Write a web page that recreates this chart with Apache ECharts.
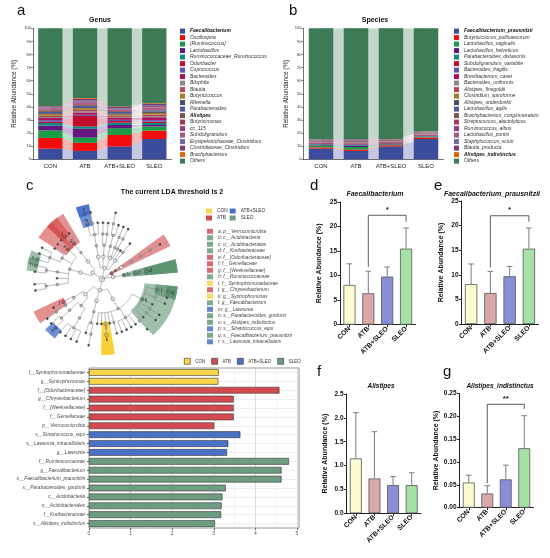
<!DOCTYPE html>
<html><head><meta charset="utf-8">
<script src="https://cdn.jsdelivr.net/npm/echarts@6/dist/echarts.min.js"></script>
<style>html,body{margin:0;padding:0;background:#fff;overflow:hidden}#c{width:550px;height:558px}</style>
</head><body><div id="c"></div>
<script>
// ---------------- DATA ----------------
const groups = ['CON', 'ATB', 'ATB+SLEO', 'SLEO'];

// Panel a: genus relative abundance (%)
const genusTaxa = ['Faecalibacterium','Oscillospira','[Ruminococcus]','Lactobacillus','Ruminococcaceae_Ruminococcus','Odoribacter','Coprococcus','Bacteroides','Bilophila','Blautia','Butyricicoccus','Rikenella','Parabacteroides','Alistipes','Butyricimonas','cc_115','Subdoligranulum','Erysipelotrichaceae_Clostridium','Clostridiaceae_Clostridium','Brachybacterium','Others'];
const genusCON     = [8.1, 8.2, 5.8, 3.6, 2.0, 1.0, 1.2, 1.6, 0.8, 0.9, 1.3, 0.7, 1.0, 1.15, 0.6, 0.7, 0.6, 0.5, 0.7, 0.3, 59.25];
const genusATB     = [6.4, 6.2, 4.0, 6.8, 1.7, 8.0, 1.0, 1.6, 1.0, 1.1, 1.2, 0.8, 1.2, 0.73, 0.9, 0.8, 0.7, 0.8, 1.2, 0.6, 53.27];
const genusATBSLEO = [9.8, 8.8, 5.1, 2.5, 1.8, 1.2, 1.0, 1.4, 0.8, 0.9, 1.0, 0.8, 1.0, 0.6, 0.6, 0.6, 0.7, 0.6, 0.8, 0.4, 59.6];
const genusSLEO    = [15.5, 6.4, 3.1, 1.2, 1.5, 1.0, 1.2, 2.2, 0.9, 1.1, 1.3, 0.9, 1.0, 0.6, 0.7, 0.8, 1.3, 0.7, 0.9, 0.5, 57.2];
const genusBold = ['Faecalibacterium', 'Alistipes'];

// Panel b: species relative abundance (%)
const speciesTaxa = ['Faecalibacterium_prausnitzii','Butyricicoccus_pullicaecorum','Lactobacillus_vaginalis','Lactobacillus_helveticus','Parabacteroides_distasonis','Subdoligranulum_variabile','Bacteroides_fragilis','Brevibacterium_casei','Bacteroides_uniformis','Alistipes_finegoldii','Clostridium_spiroforme','Alistipes_onderdonkii','Lactobacillus_agilis','Brachybacterium_conglomeratum','Streptococcus_alactolyticus','Ruminococcus_albus','Lactobacillus_pontis','Staphylococcus_sciuri','Blautia_producta','Alistipes_indistinctus','Others'];
const speciesCON     = [8.1, 1.0, 1.4, 0.6, 0.5, 0.6, 0.4, 0.3, 0.3, 0.3, 0.2, 0.3, 0.2, 0.2, 0.2, 0.2, 0.2, 0.1, 0.2, 0.055, 84.64];
const speciesATB     = [6.4, 1.0, 2.0, 1.0, 0.5, 0.4, 0.5, 0.4, 0.3, 0.3, 0.3, 0.3, 0.3, 0.3, 0.3, 0.2, 0.3, 0.2, 0.3, 0.032, 84.67];
const speciesATBSLEO = [9.8, 0.9, 0.6, 0.3, 0.5, 0.5, 0.4, 0.3, 0.3, 0.2, 0.2, 0.2, 0.2, 0.2, 0.2, 0.2, 0.1, 0.1, 0.2, 0.062, 84.54];
const speciesSLEO    = [15.5, 1.2, 0.4, 0.2, 0.6, 0.5, 0.4, 0.2, 0.3, 0.3, 0.2, 0.2, 0.1, 0.2, 0.2, 0.2, 0.1, 0.1, 0.3, 0.128, 78.67];
const speciesBold = ['Faecalibacterium_prausnitzii', 'Alistipes_indistinctus'];

// Panel c: cladogram taxonomy (name, children)
const cladeTree = ['Bacteria', [
 ['p__Proteobacteria', [
  ['c__Deltaproteobacteria', [['o__Desulfovibrionales', [['f__Desulfovibrionaceae', [
     ['g__Lawsonia', [['s__Lawsonia_intracellularis']]],
     ['g__Desulfovibrio', [['s__Desulfovibrio_C21_c20']]],
     ['g__Bilophila']]]]]]],
  ['c__Betaproteobacteria', [['o__Burkholderiales', [
     ['f__Alcaligenaceae', [['g__Sutterella']]],
     ['f__Oxalobacteraceae', [['g__Ralstonia']]]]]]],
  ['c__Gammaproteobacteria', [
     ['o__Enterobacteriales', [['f__Enterobacteriaceae', [['g__Escherichia', [['s__Escherichia_coli']]], ['g__Proteus']]]]],
     ['o__Pasteurellales', [['f__Pasteurellaceae', [['g__Actinobacillus']]]]],
     ['o__Pseudomonadales', [['f__Moraxellaceae', [['g__Acinetobacter']]]]]]],
  ['c__Alphaproteobacteria', [['o__RF32'], ['o__Rhizobiales', [['f__Bradyrhizobiaceae']]]]]]],
 ['p__Verrucomicrobia', [['c__Verrucomicrobiae', [['o__Verrucomicrobiales', [['f__Verrucomicrobiaceae', [['g__Akkermansia', [['s__Akkermansia_muciniphila']]]]]]]]]]],
 ['p__Acidobacteria', [['c__Acidobacteria', [['o__Acidobacteriales', [['f__Koribacteraceae']]]]]]],
 ['p__Firmicutes', [
  ['c__Clostridia', [['o__Clostridiales', [
     ['f__Ruminococcaceae', [
        ['g__Faecalibacterium', [['s__Faecalibacterium_prausnitzii']]],
        ['g__Ruminococcus', [['s__Ruminococcus_flavefaciens'], ['s__Ruminococcus_bromii']]],
        ['g__Oscillospira'],
        ['g__Subdoligranulum', [['s__Subdoligranulum_variabile']]],
        ['g__Butyricicoccus', [['s__Butyricicoccus_pullicaecorum']]],
        ['g__Anaerotruncus']]],
     ['f__Lachnospiraceae', [
        ['g__Blautia', [['s__Blautia_producta']]],
        ['g__Coprococcus'], ['g__Dorea'], ['g__Roseburia'], ['g__Lachnospira']]],
     ['f__Clostridiaceae', [['g__Clostridium']]],
     ['f__Peptostreptococcaceae'],
     ['f__Syntrophomonadaceae', [['g__Syntrophomonas']]],
     ['f__Mogibacteriaceae'],
     ['f__Christensenellaceae']]]]],
  ['c__Erysipelotrichi', [['o__Erysipelotrichales', [['f__Erysipelotrichaceae', [
     ['g__[Clostridium]', [['s__Clostridium_spiroforme']]], ['g__cc_115']]]]]]],
  ['c__Bacilli', [
     ['o__Lactobacillales', [
        ['f__Lactobacillaceae', [['g__Lactobacillus', [['s__Lactobacillus_vaginalis'], ['s__Lactobacillus_helveticus'], ['s__Lactobacillus_agilis'], ['s__Lactobacillus_pontis']]]]],
        ['f__Streptococcaceae', [['g__Streptococcus', [['s__Streptococcus_equi'], ['s__Streptococcus_alactolyticus']]]]]]],
     ['o__Bacillales', [
        ['f__Staphylococcaceae', [['g__Staphylococcus', [['s__Staphylococcus_sciuri']]]]],
        ['f__Gemellaceae', [['g__Gemella']]]]]]]]],
 ['p__Bacteroidetes', [
  ['c__Bacteroidia', [['o__Bacteroidales', [
     ['f__Bacteroidaceae', [['g__Bacteroides', [['s__Bacteroides_fragilis'], ['s__Bacteroides_uniformis']]]]],
     ['f__S24-7'],
     ['f__Porphyromonadaceae', [['g__Parabacteroides', [['s__Parabacteroides_distasonis'], ['s__Parabacteroides_gordonii']]]]],
     ['f__Rikenellaceae', [['g__Alistipes', [['s__Alistipes_indistinctus'], ['s__Alistipes_finegoldii'], ['s__Alistipes_onderdonkii']]], ['g__Rikenella']]],
     ['f__[Odoribacteraceae]', [['g__Odoribacter'], ['g__Butyricimonas']]]]]]],
  ['c__Flavobacteriia', [['o__Flavobacteriales', [['f__[Weeksellaceae]', [['g__Chryseobacterium'], ['g__Wautersiella']]]]]]]]]
]];

// Panel c: biomarkers
const markerLetter = ['a','b','c','d','e','f','g','h','i','j','k','l','m','n','o','p','q','r'];
const markerTaxon = ['p__Verrucomicrobia','c__Acidobacteria','o__Acidobacteriales','f__Koribacteraceae','f__[Odoribacteraceae]','f__Gemellaceae','f__[Weeksellaceae]','f__Ruminococcaceae','f__Syntrophomonadaceae','g__Chryseobacterium','g__Syntrophomonas','g__Faecalibacterium','g__Lawsonia','s__Parabacteroides_gordonii','s__Alistipes_indistinctus','s__Streptococcus_equi','s__Faecalibacterium_prausnitzii','s__Lawsonia_intracellularis'];
const markerGroup = ['ATB','SLEO','SLEO','SLEO','ATB','ATB','ATB','SLEO','CON','ATB','CON','SLEO','ATB+SLEO','SLEO','SLEO','ATB+SLEO','SLEO','ATB+SLEO'];

// Panel c: LDA scores
const ldaTaxa = ['f__Syntrophomonadaceae','g__Syntrophomonas','f__[Odoribacteraceae]','g__Chryseobacterium','f__[Weeksellaceae]','f__Gemellaceae','p__Verrucomicrobia','s__Streptococcus_equi','s__Lawsonia_intracellularis','g__Lawsonia','f__Ruminococcaceae','g__Faecalibacterium','s__Faecalibacterium_prausnitzii','s__Parabacteroides_gordonii','c__Acidobacteria','o__Acidobacteriales','f__Koribacteraceae','s__Alistipes_indistinctus'];
const ldaScores = [3.12, 3.11, 4.58, 3.48, 3.48, 3.48, 3.01, 3.64, 3.35, 3.32, 4.81, 4.63, 4.63, 3.29, 3.21, 3.19, 3.18, 3.03];
const ldaGroup = ['CON','CON','ATB','ATB','ATB','ATB','ATB','ATB+SLEO','ATB+SLEO','ATB+SLEO','SLEO','SLEO','SLEO','SLEO','SLEO','SLEO','SLEO','SLEO'];

// Panels d-g: mean and SD (%)
const dMean = [8.1, 6.4, 9.8, 15.5];   const dSd = [4.3, 4.5, 1.95, 4.2];
const eMean = [8.1, 6.3, 9.7, 15.3];   const eSd = [4.1, 4.4, 2.0, 4.2];
const fMean = [1.15, 0.73, 0.59, 0.59]; const fSd = [0.96, 0.98, 0.18, 0.26];
const gMean = [0.055, 0.031, 0.062, 0.130]; const gSd = [0.016, 0.017, 0.031, 0.071];
// significance brackets: [from, to, top, left leg end, right leg end]
const dSig = [1, 3, 22.3, 11.8, 21.0]; const dSigText = '*';
const eSig = [1, 3, 22.0, 11.5, 20.8]; const eSigText = '*';
const gSig = [1, 3, 0.226, 0.053, 0.216]; const gSigText = '**';

// ---------------- STYLES ----------------
const FONT = 'Liberation Sans, Arial, Helvetica, sans-serif';
const taxaPalette = ['#3c4c9c','#f20c0c','#1a9b48','#63177f','#138781','#c20b2b','#5b55b0','#b0105a','#8a8a8a','#b84555','#a77a26','#4a4d5e','#4b5a9c','#7d5645','#a6385a','#963a8c','#a45c7a','#6a6ba2','#7b3c78','#e0650f','#3d7a56'];
const groupSolid = ['#f7d23e', '#d2454b', '#4169c0', '#5f9472'];
const groupWedge = ['rgba(247,208,50,0.85)', 'rgba(212,70,70,0.6)', 'rgba(65,105,200,0.75)', 'rgba(78,138,98,0.55)'];
const pastel = ['#fdfdd2', '#d9a9a9', '#8a8ed8', '#a6e1a6'];
const ldaColors = ['#f8d54a', '#d24a4f', '#4a72c4', '#6e9c80'];

// ---------------- CLADOGRAM LAYOUT (from tree structure) ----------------
const phylumGap = 2.9;
const wedgePad = 0.95;
const nodes = []; let cursor = 0;
function walk(node, depth, parentIdx) {
  const name = node[0], kids = node[1];
  if (depth === 1 && nodes.some(n => n.depth === 1)) cursor += phylumGap;
  const idx = nodes.length;
  const rec = { name, depth, parentDepth: parentIdx < 0 ? -1 : nodes[parentIdx].depth, kids: [] };
  nodes.push(rec);
  if (kids && kids.length) {
    kids.forEach(k => rec.kids.push(walk(k, depth + 1, idx)));
    const ps = rec.kids.map(k => nodes[k].pos);
    rec.cmin = Math.min(...ps); rec.cmax = Math.max(...ps);
    rec.pos = (rec.cmin + rec.cmax) / 2;
    rec.lmin = Math.min(...rec.kids.map(k => nodes[k].lmin));
    rec.lmax = Math.max(...rec.kids.map(k => nodes[k].lmax));
  } else {
    rec.pos = cursor; rec.cmin = rec.cmax = cursor; rec.lmin = rec.lmax = cursor; cursor += 1;
  }
  return idx;
}
walk(cladeTree, 0, -1);
const angleTotal = cursor + phylumGap;
const byName = {}; nodes.forEach(n => byName[n.name] = n);
const markerOfNode = {}; markerTaxon.forEach((t, i) => markerOfNode[t] = groups.indexOf(markerGroup[i]));
const treeData = nodes.map(n => [n.depth, n.pos, n.parentDepth, n.cmin, n.cmax, n.name in markerOfNode ? markerOfNode[n.name] : -1, n.kids.length ? 0 : 1]);
const wedgeData = markerTaxon.map((t, i) => { const n = byName[t]; return [n.depth, n.lmin - wedgePad, n.lmax + wedgePad, groups.indexOf(markerGroup[i]), n.pos]; });
const WEDGE_OUT = 6.75;

function renderWedge(params, api) {
  const d = api.value(0), a0 = api.value(1), a1 = api.value(2), gi = api.value(3);
  const c = api.coord([0, 0]);
  const pi = api.coord([Math.max(d - 0.2, 0.01), a0]);
  const po = api.coord([WEDGE_OUT, a0]);
  const pe = api.coord([WEDGE_OUT, a1]);
  const r0 = Math.hypot(pi[0] - c[0], pi[1] - c[1]);
  const r = Math.hypot(po[0] - c[0], po[1] - c[1]);
  let s = Math.atan2(po[1] - c[1], po[0] - c[0]);
  let e = Math.atan2(pe[1] - c[1], pe[0] - c[0]);
  while (e <= s) e += Math.PI * 2;
  return { type: 'sector', shape: { cx: c[0], cy: c[1], r0, r, startAngle: s, endAngle: e, clockwise: true }, style: { fill: groupWedge[gi] } };
}
function renderTree(params, api) {
  const d = api.value(0), p = api.value(1), pd = api.value(2), cmin = api.value(3), cmax = api.value(4), mk = api.value(5), leaf = api.value(6);
  const st = { stroke: '#8e8e8e', lineWidth: 0.6, fill: null };
  const ch = [];
  if (pd >= 0) {
    const a = api.coord([pd, p]), b = api.coord([d, p]);
    ch.push({ type: 'line', shape: { x1: a[0], y1: a[1], x2: b[0], y2: b[1] }, style: st });
  }
  if (d > 0 && cmax > cmin) {
    const pts = []; const n = Math.max(4, Math.ceil((cmax - cmin) * 3));
    for (let k = 0; k <= n; k++) pts.push(api.coord([d, cmin + (cmax - cmin) * k / n]));
    ch.push({ type: 'polyline', shape: { points: pts }, style: st });
  }
  const c = api.coord([d, p]);
  let r, fill, stroke = '#555';
  if (d === 0) { r = 2.8; fill = '#fff'; }
  else if (mk >= 0) { r = 1.7; fill = groupSolid[mk]; stroke = '#444'; }
  else if (d <= 2) { r = 1.8; fill = '#f4f4f4'; }
  else if (leaf) { r = 1.05; fill = '#3a3a3a'; }
  else { r = 1.3; fill = '#bdbdbd'; }
  ch.push({ type: 'circle', shape: { cx: c[0], cy: c[1], r }, style: { fill, stroke, lineWidth: 0.5 } });
  return { type: 'group', children: ch };
}
function renderLetter(params, api) {
  const d = api.value(0), p = api.value(4);
  const c = api.coord([d + 0.38, p]);
  return { type: 'text', x: c[0], y: c[1], style: { text: markerLetter[params.dataIndex], fontSize: 4.5, fontFamily: FONT, fill: '#222', align: 'center', verticalAlign: 'middle' } };
}

// ---------------- SERIES & AXES ----------------
const series = [];
function addStack(taxa, cols, axisIdx, key) {
  taxa.forEach((t, i) => {
    const vals = cols.map(col => col[i]);
    series.push({ type: 'bar', name: t, xAxisIndex: axisIdx, yAxisIndex: axisIdx, stack: key, barWidth: '70%', data: vals, itemStyle: { color: taxaPalette[i] }, z: 3 });
    series.push({ type: 'line', name: t + ' flow', xAxisIndex: axisIdx, yAxisIndex: axisIdx, stack: key + 'Flow', data: vals, symbol: 'none', lineStyle: { width: 0, opacity: 0 }, areaStyle: { color: taxaPalette[i], opacity: 0.3 }, z: 1, silent: true });
  });
}
addStack(genusTaxa, [genusCON, genusATB, genusATBSLEO, genusSLEO], 0, 'genus');
addStack(speciesTaxa, [speciesCON, speciesATB, speciesATBSLEO, speciesSLEO], 1, 'species');

// LDA bars
groups.forEach((g, gi) => series.push({ type: 'bar', name: g, xAxisIndex: 2, yAxisIndex: 2, stack: 'lda', barCategoryGap: '24%',
  data: ldaScores.map((v, i) => ldaGroup[i] === g ? v : '-'), itemStyle: { color: ldaColors[gi], borderColor: '#3a3a3a', borderWidth: 0.6 } }));

// Cladogram
series.push({ type: 'custom', coordinateSystem: 'polar', polarIndex: 0, renderItem: renderWedge, data: wedgeData, z: 1, silent: true });
series.push({ type: 'custom', coordinateSystem: 'polar', polarIndex: 0, renderItem: renderTree, data: treeData, z: 2, silent: true });
series.push({ type: 'custom', coordinateSystem: 'polar', polarIndex: 0, renderItem: renderLetter, data: wedgeData, z: 3, silent: true });
const letterNames = markerLetter.map((l, i) => l + ': ' + markerTaxon[i]);
letterNames.forEach((nm, i) => series.push({ type: 'scatter', name: nm, coordinateSystem: 'polar', polarIndex: 0, data: [], itemStyle: { color: groupSolid[groups.indexOf(markerGroup[i])] } }));

// Panels d-g
function addBarPanel(idx, means, sds, sig, sigText) {
  series.push({ type: 'bar', name: 'panel' + idx, xAxisIndex: idx, yAxisIndex: idx, barWidth: '64%',
    data: means.map((v, i) => ({ value: v, itemStyle: { color: pastel[i] } })), itemStyle: { borderColor: '#555', borderWidth: 0.8 }, z: 2 });
  series.push({ type: 'custom', xAxisIndex: idx, yAxisIndex: idx, encode: { x: 0, y: 1 }, z: 3, silent: true,
    data: means.map((m, i) => [i, m, sds[i]]),
    renderItem(params, api) {
      const x = api.value(0), m = api.value(1), s = api.value(2);
      const p0 = api.coord([x, m]), p1 = api.coord([x, m + s]);
      const w = 2.8, st = { stroke: '#7d7d7d', lineWidth: 1 };
      return { type: 'group', children: [
        { type: 'line', shape: { x1: p0[0], y1: p0[1], x2: p1[0], y2: p1[1] }, style: st },
        { type: 'line', shape: { x1: p1[0] - w, y1: p1[1], x2: p1[0] + w, y2: p1[1] }, style: st }] };
    } });
  if (sig) {
    series.push({ type: 'custom', xAxisIndex: idx, yAxisIndex: idx, encode: { x: 0, y: 2 }, z: 3, silent: true, data: [sig],
      renderItem(params, api) {
        const x1 = api.value(0), x2 = api.value(1), top = api.value(2), l = api.value(3), r = api.value(4);
        const a = api.coord([x1, l]), b = api.coord([x1, top]), c = api.coord([x2, top]), d = api.coord([x2, r]);
        return { type: 'group', children: [
          { type: 'polyline', shape: { points: [a, b, c, d] }, style: { stroke: '#333', lineWidth: 0.8, fill: null } },
          { type: 'text', x: (b[0] + c[0]) / 2, y: b[1] - 1.5, style: { text: sigText, fontSize: 8, fontWeight: 'bold', fontFamily: FONT, fill: '#222', align: 'center', verticalAlign: 'bottom' } }] };
      } });
  }
}
addBarPanel(3, dMean, dSd, dSig, dSigText);
addBarPanel(4, eMean, eSd, eSig, eSigText);
addBarPanel(5, fMean, fSd, null, '');
addBarPanel(6, gMean, gSd, gSig, gSigText);

function stackX(gi) { return { gridIndex: gi, type: 'category', data: groups, axisLine: { lineStyle: { color: '#333', width: 0.7 } }, axisTick: { show: false }, axisLabel: { fontSize: 6, color: '#222', margin: 4, interval: 0 } }; }
function stackY(gi, gap) { return { gridIndex: gi, type: 'value', min: 0, max: 100, interval: 10, name: 'Relative Abundance (%)', nameLocation: 'middle', nameGap: gap,
  nameTextStyle: { fontSize: 6.3, color: '#222' }, axisLine: { show: true, lineStyle: { color: '#333', width: 0.7 } }, axisTick: { show: true, length: 2, lineStyle: { color: '#333', width: 0.6 } },
  axisLabel: { fontSize: 4, color: '#333', margin: 2 }, splitLine: { show: false } }; }
function barX(gi) { return { gridIndex: gi, type: 'category', data: groups, axisLine: { lineStyle: { color: '#222', width: 1 } },
  axisTick: { show: true, alignWithLabel: true, length: 2.5, lineStyle: { color: '#222' } }, axisLabel: { rotate: 45, fontSize: 6.8, fontWeight: 'bold', color: '#111', margin: 3, interval: 0 } }; }
function barY(gi, max, interval, dec, gap) { return { gridIndex: gi, type: 'value', min: 0, max, interval, name: 'Relative Abundance (%)', nameLocation: 'middle', nameGap: gap,
  nameTextStyle: { fontSize: 7, fontWeight: 'bold', color: '#111' }, axisLine: { show: true, lineStyle: { color: '#222', width: 1 } },
  axisTick: { show: true, length: 2.5, lineStyle: { color: '#222' } }, axisLabel: { fontSize: 6.5, fontWeight: 'bold', color: '#111', margin: 3, formatter: v => (+v).toFixed(dec) }, splitLine: { show: false } }; }

const grids = [
  { left: 33, top: 28.3, width: 138.7, height: 131 },
  { left: 303.5, top: 28.3, width: 140, height: 131 },
  { left: 89, top: 368, width: 210, height: 160, show: true, borderColor: '#7f7f7f', borderWidth: 0.8, backgroundColor: '#fff' },
  { left: 340, top: 202, width: 75.5, height: 122.7 },
  { left: 461.5, top: 201, width: 77, height: 123 },
  { left: 346.5, top: 394, width: 74.5, height: 119.3 },
  { left: 459.5, top: 393.3, width: 74, height: 114.4 }
].map(g => Object.assign({ outerBoundsMode: 'none', containLabel: false }, g));

const xAxes = [stackX(0), stackX(1),
  { gridIndex: 2, type: 'value', min: 0, max: 5.05, interval: 1, axisLine: { show: false },
    axisTick: { show: true, length: 2, lineStyle: { color: '#666' } }, axisLabel: { fontSize: 5, color: '#555', margin: 3, showMaxLabel: false },
    splitLine: { show: true, lineStyle: { color: '#c4c4c4', width: 0.6 } }, minorTick: { show: false, splitNumber: 2 }, minorSplitLine: { show: true, lineStyle: { color: '#e8e8e8', width: 0.5 } } },
  barX(3), barX(4), barX(5), barX(6)];
const yAxes = [stackY(0, 16), stackY(1, 14),
  { gridIndex: 2, type: 'category', data: ldaTaxa, inverse: true, axisLine: { show: false },
    axisTick: { show: true, length: 2, alignWithLabel: true, lineStyle: { color: '#666' } },
    axisLabel: { fontSize: 4.8, color: '#4a4a4a', fontStyle: 'italic', margin: 4, interval: 0 },
    splitLine: { show: true, alignWithLabel: true, lineStyle: { color: '#e2e2e2', width: 0.6 } } },
  barY(3, 25, 5, 0, 17), barY(4, 25, 5, 0, 17), barY(5, 2.5, 0.5, 1, 18), barY(6, 0.25, 0.05, 2, 15)];

function boldFmt(list) { return n => list.includes(n) ? '{b|' + n + '}' : n; }
const taxaLegend = (left, data, boldList) => ({ left, top: 28.6, orient: 'vertical', padding: 0, itemWidth: 5, itemHeight: 5, itemGap: 1.5, icon: 'rect', selectedMode: false, data,
  formatter: boldFmt(boldList), textStyle: { fontSize: 5, lineHeight: 5, fontStyle: 'italic', color: '#333', rich: { b: { fontSize: 5, lineHeight: 5, fontStyle: 'italic', fontWeight: 'bold', color: '#111' } } } });

const titleStyle = (s, extra) => Object.assign({ fontSize: s, fontWeight: 'bold', color: '#111', fontFamily: FONT }, extra || {});
const letter = (t, left, top) => ({ text: t, left, top, padding: 0, textStyle: { fontSize: 15, fontWeight: 'normal', color: '#111', fontFamily: FONT } });
const ctitle = (t, x, top, size, italic) => ({ text: t, left: x, top, padding: 0, textAlign: 'center', textStyle: titleStyle(size, italic ? { fontStyle: 'italic' } : {}) });

const option = {
  animation: false,
  backgroundColor: '#fff',
  textStyle: { fontFamily: FONT },
  title: [
    letter('a', 17, 3), letter('b', 289, 3), letter('c', 26, 178), letter('d', 310, 178), letter('e', 434, 178), letter('f', 317, 364), letter('g', 443, 364),
    ctitle('Genus', 100, 17, 7), ctitle('Species', 375, 17, 7),
    ctitle('The current LDA threshold is 2', 172, 189, 7),
    ctitle('Faecalibacterium', 375, 191, 7, true), ctitle('Faecalibacterium_prausnitzii', 492, 191, 7, true),
    ctitle('Alistipes', 381, 383, 6.5, true), ctitle('Alistipes_indistinctus', 500, 383, 6.5, true)
  ],
  legend: [
    taxaLegend(180, genusTaxa, genusBold),
    taxaLegend(454, speciesTaxa, speciesBold),
    { left: 206, top: 208.5, height: 13, orient: 'vertical', padding: 0, itemWidth: 6, itemHeight: 5, itemGap: 2, icon: 'rect', selectedMode: false, data: groups,
      itemStyle: { borderWidth: 0 }, textStyle: { fontSize: 4.8, lineHeight: 5, color: '#333' } },
    { left: 207, top: 228.8, orient: 'vertical', padding: 0, itemWidth: 6, itemHeight: 5, itemGap: 1.5, icon: 'rect', selectedMode: false, data: letterNames,
      textStyle: { fontSize: 4.8, lineHeight: 5, fontStyle: 'italic', color: '#444' } },
    { left: 184, top: 358, orient: 'horizontal', padding: 0, itemWidth: 6, itemHeight: 6, itemGap: 6, icon: 'rect', selectedMode: false, data: groups,
      itemStyle: { borderColor: '#333', borderWidth: 0.6 }, textStyle: { fontSize: 4.5, color: '#333' } }
  ],
  grid: grids,
  xAxis: xAxes,
  yAxis: yAxes,
  polar: { center: [102, 279], radius: 76 },
  angleAxis: { type: 'value', min: 0, max: angleTotal, startAngle: 105, clockwise: true, show: false },
  radiusAxis: { type: 'value', min: 0, max: WEDGE_OUT, show: false },
  series
};
const chart = echarts.init(document.getElementById('c'), null, { renderer: 'canvas', width: 550, height: 558 });
chart.setOption(option);
</script>
</body></html>
